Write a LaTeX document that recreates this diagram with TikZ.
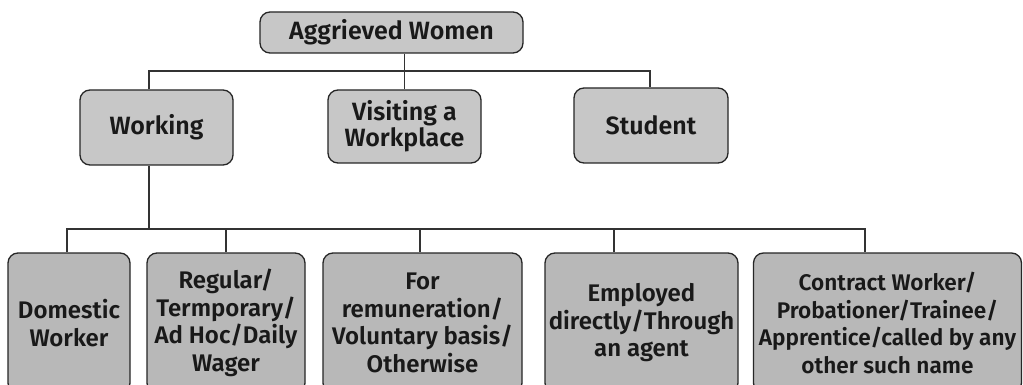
\documentclass[tikz,border=0pt]{standalone}
\usepackage{fontspec}
\setmainfont{Fira Sans}[UprightFont=* SemiBold]
\begin{document}
\begin{tikzpicture}[x=1pt,y=-1pt,
  box/.style={draw=black!85,line width=1.3pt,rounded corners=10pt,fill=black!22,
    inner sep=0pt,align=center,font=\fontsize{25}{26}\selectfont,text=black!90},
  lowbox/.style={box,minimum height=140pt,fill=black!28,font=\fontsize{24}{27.5}\selectfont},
  conn/.style={draw=black!80,line width=1.1pt}]
\fill[white] (0,0) rectangle (1023,385);
\clip (0,0) rectangle (1023,385);
\node[box,minimum width=263pt,minimum height=41pt] (top) at (391.5,32.5) {Aggrieved Women};
\node[box,minimum width=153pt,minimum height=75pt] (work) at (156.5,127.5) {Working};
\node[box,minimum width=153pt,minimum height=73pt] (vis) at (404.5,126.5) {Visiting a\\Workplace};
\node[box,minimum width=154pt,minimum height=75pt] (stud) at (651,125.5) {Student};
\node[lowbox,minimum width=122pt] (b1) at (69,323) {Domestic\\Worker};
\node[lowbox,minimum width=158pt] (b2) at (226,323) {Regular/\\Termporary/\\Ad Hoc/Daily\\Wager};
\node[lowbox,minimum width=199pt] (b3) at (422.5,323) {For\\remuneration/\\Voluntary basis/\\Otherwise};
\node[lowbox,minimum width=193pt] (b4) at (641.5,323) {Employed\\directly/Through\\an agent};
\node[lowbox,minimum width=268pt,font=\fontsize{22.6}{27.5}\selectfont] (b5) at (887.5,323) {Contract Worker/\\Probationer/Trainee/\\Apprentice/called by any\\other such name};
\coordinate (h1) at (149,71);
\coordinate (h2) at (650,71);
\coordinate (v1) at (149,229);
\coordinate (l1) at (67,229);
\coordinate (l2) at (226,229);
\coordinate (l3) at (420,229);
\coordinate (l4) at (614,229);
\coordinate (l5) at (865,229);
\draw[conn] (top.south -| vis.north) -- (vis.north);
\draw[conn] (h1 |- work.north) -- (h1) -- (h2) -- (h2 |- stud.north);
\draw[conn] (h1 |- work.south) -- (v1);
\draw[conn] (l1 |- b1.north) -- (l1) -- (l5) -- (l5 |- b5.north);
\draw[conn] (l2) -- (l2 |- b2.north);
\draw[conn] (l3) -- (l3 |- b3.north);
\draw[conn] (l4) -- (l4 |- b4.north);
\end{tikzpicture}
\end{document}
